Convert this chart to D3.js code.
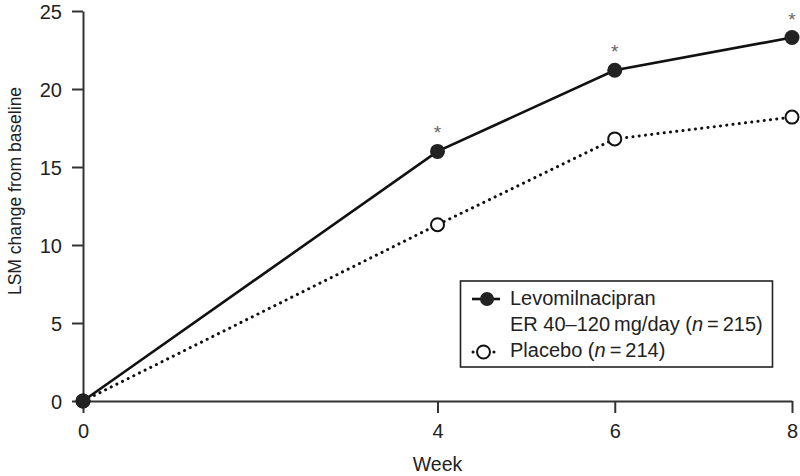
<!DOCTYPE html>
<html>
<head>
<meta charset="utf-8">
<script src="https://cdn.jsdelivr.net/npm/d3@7"></script>
<style>
  body { margin: 0; background: #fff; }
  svg { display: block; font-family: "Liberation Sans", Arial, sans-serif; }
</style>
</head>
<body>
<div id="container"></div>
<script>
// DATA
const weeks = [0, 4, 6, 8];
const levomilnacipran = [0, 16.0, 21.2, 23.3];
const placebo = [0, 11.3, 16.8, 18.2];
const significant = [false, true, true, true];
const yTicks = [0, 5, 10, 15, 20, 25];
const xTicks = [0, 4, 6, 8];

const width = 800;
const height = 476;
const margin = {top: 11, right: 8, bottom: 75, left: 83};

const x = d3.scaleLinear([0, 8], [margin.left, width - margin.right]);
const y = d3.scaleLinear([0, 25], [height - margin.bottom, margin.top]);

const svg = d3.select('#container')
  .append('svg')
  .attr('width', width)
  .attr('height', height);

// axes
const xAxis = svg.append('g')
  .attr('transform', `translate(0,${y(0)})`)
  .call(d3.axisBottom(x).tickValues(xTicks).tickSize(12).tickPadding(11).tickSizeOuter(0));
const yAxis = svg.append('g')
  .attr('transform', `translate(${x(0)},0)`)
  .call(d3.axisLeft(y).tickValues(yTicks).tickSize(11).tickPadding(10).tickSizeOuter(0));

[xAxis, yAxis].forEach(g => {
  g.select('.domain').attr('stroke', '#333').attr('stroke-width', 2);
  g.selectAll('.tick line').attr('stroke', '#333').attr('stroke-width', 2);
  g.selectAll('.tick text')
    .attr('fill', '#222')
    .style('font-size', '20px')
    .style('font-family', '"Liberation Sans", Arial, sans-serif');
});
yAxis.selectAll('.tick text').attr('dy', '0.36em');

svg.append('text')
  .attr('x', (x(0) + x(8)) / 2)
  .attr('y', 471)
  .attr('text-anchor', 'middle')
  .attr('fill', '#222')
  .style('font-size', '19.5px')
  .text('Week');

svg.append('text')
  .attr('transform', 'translate(21,191) rotate(-90)')
  .attr('text-anchor', 'middle')
  .attr('fill', '#222')
  .style('font-size', '17.5px')
  .text('LSM change from baseline');

// lines
const line = d3.line()
  .x((d, i) => x(weeks[i]))
  .y(d => y(d));

svg.append('path')
  .datum(placebo)
  .attr('fill', 'none')
  .attr('stroke', '#111')
  .attr('stroke-width', 3)
  .attr('stroke-linecap', 'round')
  .attr('stroke-dasharray', '0.1 6.2')
  .attr('d', line);

svg.append('path')
  .datum(levomilnacipran)
  .attr('fill', 'none')
  .attr('stroke', '#111')
  .attr('stroke-width', 2.6)
  .attr('d', line);

// markers
svg.append('g')
  .selectAll('circle')
  .data(placebo)
  .join('circle')
  .attr('cx', (d, i) => x(weeks[i]))
  .attr('cy', d => y(d))
  .attr('r', 6.5)
  .attr('fill', '#fff')
  .attr('stroke', '#111')
  .attr('stroke-width', 2);

svg.append('g')
  .selectAll('circle')
  .data(levomilnacipran)
  .join('circle')
  .attr('cx', (d, i) => x(weeks[i]))
  .attr('cy', d => y(d))
  .attr('r', 7.5)
  .attr('fill', '#222');

// significance asterisks
svg.append('g')
  .selectAll('text')
  .data(levomilnacipran.filter((d, i) => significant[i]).map((d, i) => [weeks[i + 1], d]))
  .join('text')
  .attr('x', d => x(d[0]))
  .attr('y', d => y(d[1]) - 12)
  .attr('text-anchor', 'middle')
  .attr('fill', '#666')
  .style('font-size', '19px')
  .text('*');

// legend
const legend = svg.append('g');
legend.append('rect')
  .attr('x', 460.5)
  .attr('y', 281)
  .attr('width', 312)
  .attr('height', 86)
  .attr('fill', '#fff')
  .attr('stroke', '#222')
  .attr('stroke-width', 1.6);

legend.append('line')
  .attr('x1', 472).attr('x2', 500)
  .attr('y1', 299).attr('y2', 299)
  .attr('stroke', '#111').attr('stroke-width', 2.6);
legend.append('circle')
  .attr('cx', 487).attr('cy', 299).attr('r', 7)
  .attr('fill', '#222');

legend.append('line')
  .attr('x1', 473).attr('x2', 494)
  .attr('y1', 352).attr('y2', 352)
  .attr('stroke', '#111').attr('stroke-width', 3)
  .attr('stroke-linecap', 'round')
  .attr('stroke-dasharray', '0.1 20.8');
legend.append('circle')
  .attr('cx', 483.5).attr('cy', 352).attr('r', 6.5)
  .attr('fill', '#fff').attr('stroke', '#111').attr('stroke-width', 2);

const legendText = legend.append('g')
  .attr('fill', '#222')
  .style('font-size', '20px');

legendText.append('text')
  .attr('x', 510).attr('y', 305)
  .text('Levomilnacipran');

const t2 = legendText.append('text').attr('x', 510).attr('y', 331);
t2.append('tspan').text('ER 40\u2013120\u2009mg/day (');
t2.append('tspan').style('font-style', 'italic').text('n');
t2.append('tspan').text('\u2009=\u2009215)');

const t3 = legendText.append('text').attr('x', 510).attr('y', 357);
t3.append('tspan').text('Placebo (');
t3.append('tspan').style('font-style', 'italic').text('n');
t3.append('tspan').text('\u2009=\u2009214)');
</script>
</body>
</html>
